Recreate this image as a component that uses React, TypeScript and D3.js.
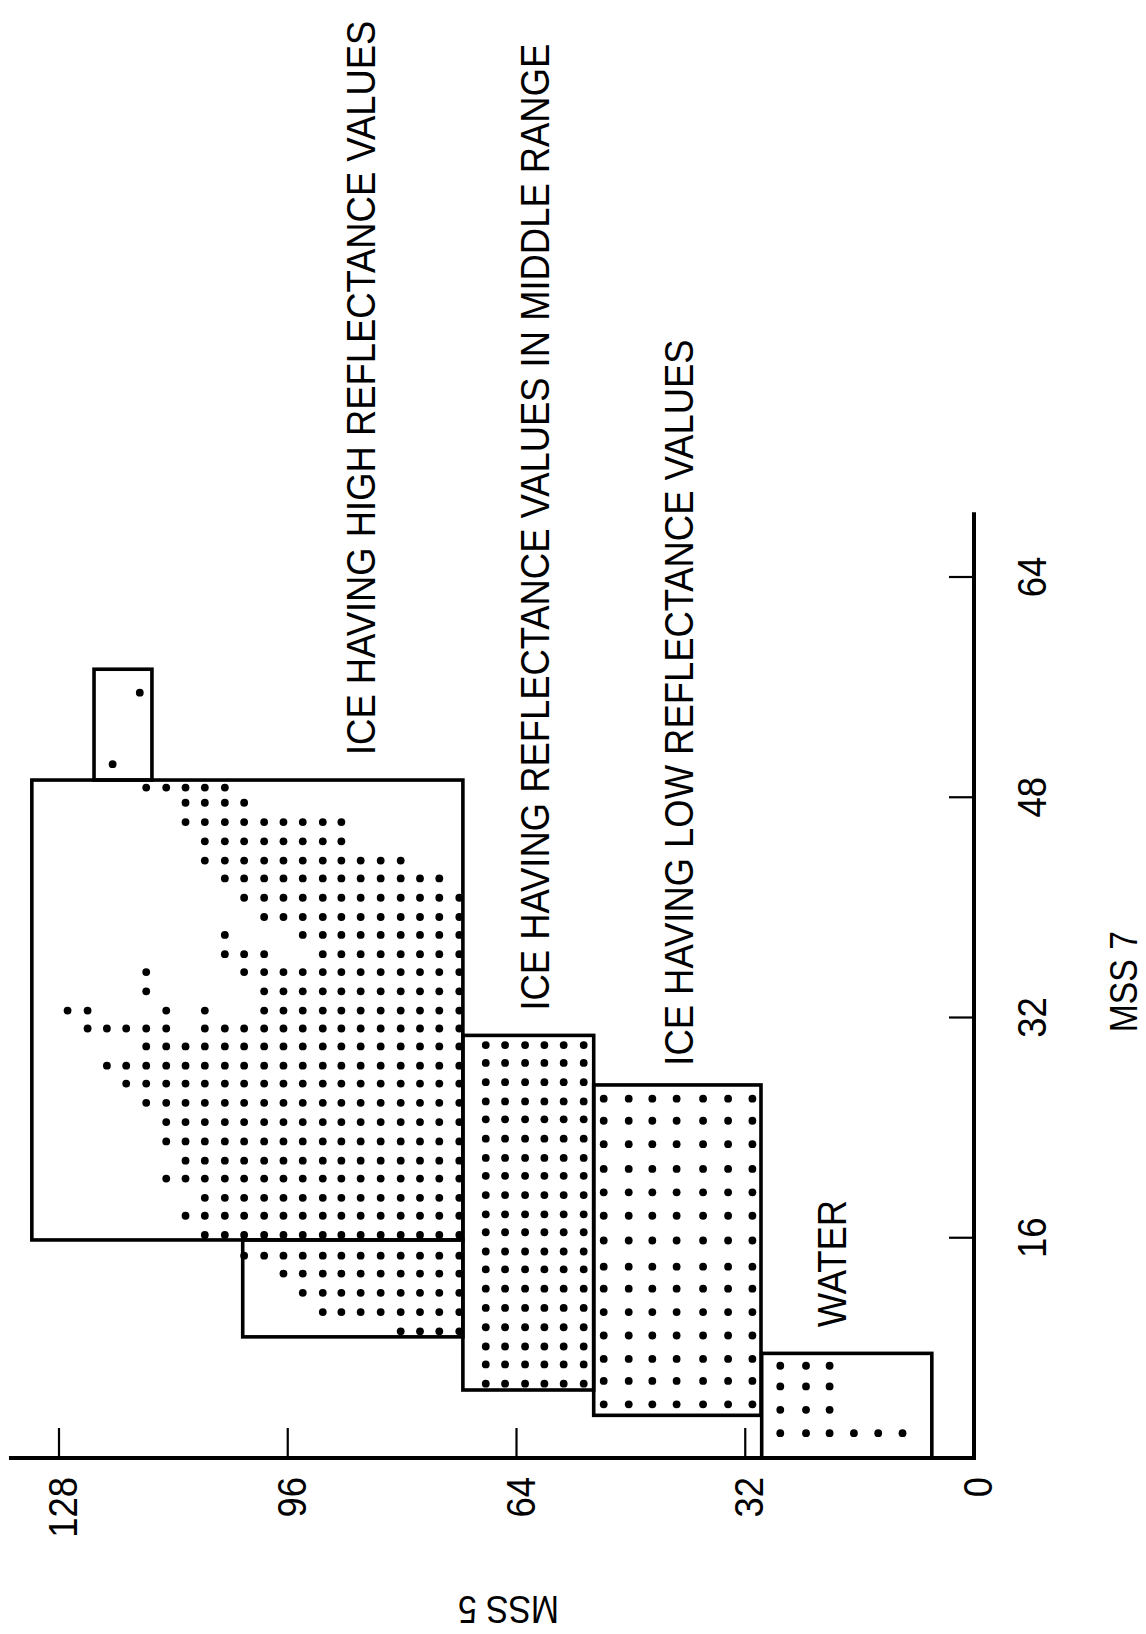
import React from "react";
import * as d3 from "d3";

// ---------- data (MSS5 = horizontal reflectance band, MSS7 = vertical) ----------
const mss5Ticks = [0, 32, 64, 96, 128];
const mss7Ticks = [16, 32, 48, 64];
const mss5AxisMax = 135;
const mss7AxisMax = 68.7;

// class boxes: [min, max] in each band
const boxNames = ["high", "highTop", "highLow", "middle", "low", "water"];
const boxMss5 = [
  [71.5, 131.8],
  [115.0, 123.1],
  [71.5, 102.3],
  [53.2, 71.5],
  [29.8, 53.2],
  [5.9, 29.7],
];
const boxMss7 = [
  [15.84, 49.25],
  [49.25, 57.3],
  [8.8, 15.84],
  [4.94, 30.7],
  [3.1, 27.1],
  [0, 7.6],
];

// high reflectance ice: grid columns (MSS5) and rows (MSS7) with occupancy masks
const highCols = [126.8, 124.0, 121.3, 118.6, 115.8, 113.0, 110.3, 107.6, 104.8, 102.1, 99.3, 96.6, 93.9, 91.1, 88.5, 85.8, 83.0, 80.2, 77.5, 74.8, 72.0];
const highRows = [48.7, 47.6, 46.2, 44.8, 43.4, 42.1, 40.7, 39.3, 38.0, 36.6, 35.3, 33.9, 32.5, 31.2, 29.9, 28.5, 27.2, 25.8, 24.4, 23.0, 21.6, 20.3, 18.9, 17.6, 16.2, 14.7, 13.4, 12.0, 10.6, 9.2];
const highMasks = [
  "....#####............",
  "......####...........",
  "......#########......",
  ".......########......",
  ".......###########...",
  "........############.",
  ".........############",
  "..........###########",
  "........#...#########",
  "........###..########",
  "....#....############",
  "....#.....###########",
  "##...#.#..###########",
  ".#####.##############",
  "....#################",
  "..###################",
  "...##################",
  "....#################",
  ".....################",
  ".....################",
  "......###############",
  ".....################",
  ".......##############",
  "......###############",
  ".......##############",
  ".........############",
  "...........##########",
  "............#########",
  ".............########",
  ".................####",
];
const highExtraMss5 = [116.7, 120.5];
const highExtraMss7 = [55.6, 50.4];

// middle range ice
const midCols = [68.3, 65.6, 62.8, 60.1, 57.4, 54.6];
const midRows = [30.0, 28.7, 27.3, 25.9, 24.6, 23.2, 21.8, 20.5, 19.1, 17.7, 16.4, 15.0, 13.7, 12.3, 10.9, 9.5, 8.1, 6.8, 5.4];

// low reflectance ice
const lowCols = [51.8, 48.3, 45.0, 41.6, 37.9, 34.4, 31.0];
const lowRows = [26.1, 24.5, 22.8, 21.0, 19.3, 17.6, 15.8, 13.9, 12.3, 10.6, 8.9, 7.2, 5.6, 3.9];

// water
const waterCols = [27.1, 23.5, 20.2, 16.8, 13.4, 10.0];
const waterRows = [6.7, 5.2, 3.5, 1.8];
const waterMasks = ["###...", "###...", "###...", "######"];

// class labels (start point of rotated text: MSS5 of baseline, MSS7 of start)
const labelTexts = [
  "ICE HAVING HIGH REFLECTANCE VALUES",
  "ICE HAVING REFLECTANCE VALUES IN MIDDLE RANGE",
  "ICE HAVING LOW REFLECTANCE VALUES",
  "WATER",
];
const labelMss5 = [83.8, 59.5, 39.3, 17.9];
const labelMss7 = [51.07, 32.5, 28.5, 9.5];

const mss5Title = "MSS 5";
const mss7Title = "MSS 7";

// ---------- helpers ----------
function gridPoints(cols: number[], rows: number[], masks?: string[]) {
  const pts: [number, number][] = [];
  rows.forEach((r, i) => {
    cols.forEach((c, j) => {
      if (!masks || masks[i][j] === "#") pts.push([c, r]);
    });
  });
  return pts;
}

export default function App() {
  const W = 1146;
  const H = 1634;
  const x = d3.scaleLinear().domain([0, 128]).range([974, 59]);
  const y = d3.scaleLinear().domain([0, 64]).range([1458, 577]);

  const font = "'Liberation Sans', Arial, Helvetica, sans-serif";
  const fs = 41;
  const sx = 0.888;

  const points: [number, number][] = [
    ...gridPoints(highCols, highRows, highMasks),
    ...highExtraMss5.map((v, i) => [v, highExtraMss7[i]] as [number, number]),
    ...gridPoints(midCols, midRows),
    ...gridPoints(lowCols, lowRows),
    ...gridPoints(waterCols, waterRows, waterMasks),
  ];

  const x0 = x(0);
  const y0 = y(0);

  return (
    <div style={{ position: "absolute", left: 0, top: 0, width: W, height: H, background: "#fff" }}>
      <svg width={W} height={H} style={{ display: "block" }}>
        <rect x={0} y={0} width={W} height={H} fill="#fff" />

        {/* axes */}
        <line x1={x(mss5AxisMax)} y1={y0} x2={x0 + 2} y2={y0} stroke="#000" strokeWidth={4} />
        <line x1={x0} y1={y(mss7AxisMax)} x2={x0} y2={y0 + 2} stroke="#000" strokeWidth={4} />

        {mss5Ticks.filter((t) => t > 0).map((t) => (
          <line key={"t5" + t} x1={x(t)} x2={x(t)} y1={y0} y2={y0 - 30} stroke="#000" strokeWidth={2.2} />
        ))}
        {mss7Ticks.map((t) => (
          <line key={"t7" + t} x1={x0} x2={x0 - 25} y1={y(t)} y2={y(t)} stroke="#000" strokeWidth={2.2} />
        ))}

        {mss5Ticks.map((t) => (
          <text
            key={"l5" + t}
            transform={`translate(${x(t) + 18},${y0 + 19}) rotate(-90) scale(${sx},1)`}
            textAnchor="end"
            fontFamily={font}
            fontSize={fs}
          >
            {t}
          </text>
        ))}
        {mss7Ticks.map((t) => (
          <text
            key={"l7" + t}
            transform={`translate(${x0 + 72},${y(t)}) rotate(-90) scale(${sx},1)`}
            textAnchor="middle"
            fontFamily={font}
            fontSize={fs}
          >
            {t}
          </text>
        ))}

        <text
          transform={`translate(${x(64) - 8},${y0 + 138}) rotate(180) scale(${sx},1)`}
          textAnchor="middle"
          fontFamily={font}
          fontSize={38}
        >
          {mss5Title}
        </text>
        <text
          transform={`translate(${x0 + 163},${y(34.6)}) rotate(-90) scale(${sx},1)`}
          textAnchor="middle"
          fontFamily={font}
          fontSize={38}
        >
          {mss7Title}
        </text>

        {/* class boxes */}
        {boxNames.map((n, i) => {
          const [a5, b5] = boxMss5[i];
          const [a7, b7] = boxMss7[i];
          return (
            <rect
              key={n}
              x={x(b5)}
              y={y(b7)}
              width={x(a5) - x(b5)}
              height={y(a7) - y(b7)}
              fill="none"
              stroke="#000"
              strokeWidth={3.6}
            />
          );
        })}

        {/* observations */}
        {points.map(([v5, v7], i) => (
          <circle key={"p" + i} cx={x(v5)} cy={y(v7)} r={3.9} fill="#000" />
        ))}

        {/* class labels */}
        {labelTexts.map((t, i) => (
          <text
            key={"lab" + i}
            transform={`translate(${x(labelMss5[i])},${y(labelMss7[i])}) rotate(-90) scale(${sx},1)`}
            textAnchor="start"
            fontFamily={font}
            fontSize={fs}
          >
            {t}
          </text>
        ))}
      </svg>
    </div>
  );
}
